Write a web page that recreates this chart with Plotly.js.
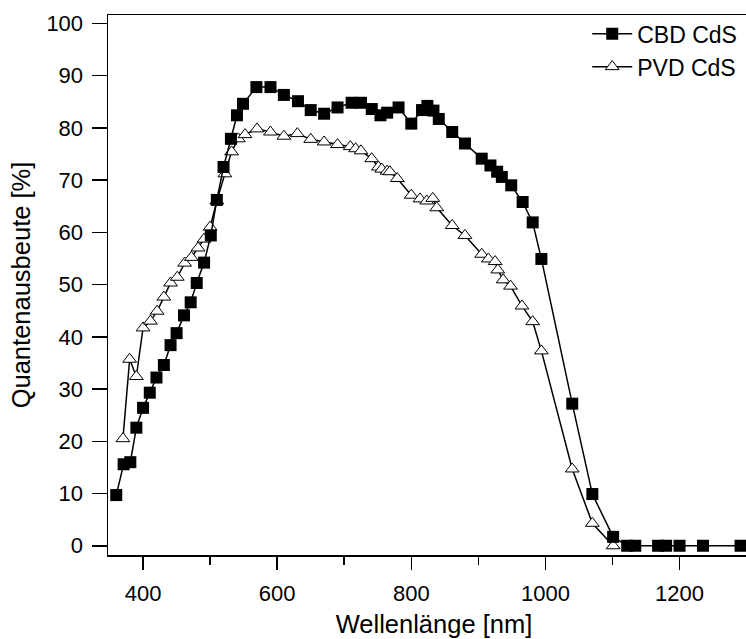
<!DOCTYPE html>
<html>
<head>
<meta charset="utf-8">
<script src="https://cdn.plot.ly/plotly-3.0.1.min.js"></script>
<style>
html,body{margin:0;padding:0;overflow:hidden;background:#fff;width:746px;height:639px;}
#chart{width:780px;height:639px;}
</style>
</head>
<body>
<div id="chart"></div>
<script>
const seriesNames = ["CBD CdS", "PVD CdS"];
const xTitle = "Wellenlänge [nm]";
const yTitle = "Quantenausbeute [%]";

const cbdWavelength = [360,371,381,390,400,410,420,431,441,450,461,471,480,491,501,510,520,531,540,549,569,590,610,631,650,670,690,711,725,741,754,764,781,800,816,824,833,841,861,880,905,918,928,935,949,966,981,994,1040,1070,1101,1122,1134,1168,1180,1200,1235,1291];
const cbdQE = [9.7,15.6,16.0,22.6,26.4,29.3,32.2,34.6,38.4,40.7,44.1,46.6,50.3,54.2,59.4,66.2,72.5,77.9,82.4,84.6,87.8,87.8,86.3,85.1,83.4,82.7,83.9,84.8,84.8,83.6,82.4,82.9,83.9,80.8,83.4,84.2,83.3,81.7,79.2,77.0,74.1,72.8,71.6,70.6,69.0,65.8,61.9,54.9,27.2,9.9,1.7,0,0,0,0,0,0,0];

const pvdWavelength = [370,380,390,400,411,421,431,441,451,462,472,482,491,500,510,522,532,542,552,570,590,610,630,650,670,690,709,717,725,741,751,756,764,768,779,800,813,823,832,838,861,880,905,915,925,929,937,948,965,981,994,1040,1070,1101];
const pvdQE = [20.5,35.7,32.4,41.7,43.0,44.9,47.6,50.3,51.4,54.1,55.2,57.0,58.7,61.0,66.0,71.2,75.4,77.9,78.7,79.8,79.2,78.4,78.9,77.8,77.3,76.8,76.4,76.0,75.6,74.1,72.5,72.1,71.7,71.6,70.3,67.1,66.4,66.0,66.5,64.7,61.3,59.4,55.8,54.9,54.4,52.8,50.9,49.7,45.9,42.9,37.3,14.7,4.3,0];

const xTickVals = [400,600,800,1000,1200];
const yTickVals = [0,10,20,30,40,50,60,70,80,90,100];

const font = "Liberation Sans, Arial, sans-serif";

const traces = [
  {
    x: pvdWavelength, y: pvdQE, name: seriesNames[1], type: "scatter", mode: "lines+markers",
    line: {color: "#000", width: 1.5},
    marker: {symbol: "triangle-up", size: 12, color: "#fff", line: {color: "#000", width: 1}},
    legendrank: 2
  },
  {
    x: cbdWavelength, y: cbdQE, name: seriesNames[0], type: "scatter", mode: "lines+markers",
    line: {color: "#000", width: 1.5},
    marker: {symbol: "square", size: 12, color: "#000", line: {color: "#000", width: 0}},
    legendrank: 1
  }
];

const layout = {
  width: 780, height: 639,
  margin: {l: 108, r: 20, t: 12, b: 84},
  paper_bgcolor: "#fff", plot_bgcolor: "#fff",
  font: {family: font, size: 22, color: "#000"},
  showlegend: true,
  legend: {x: 0.735, y: 1.005, xanchor: "left", yanchor: "top", bgcolor: "rgba(0,0,0,0)",
           font: {family: font, size: 23, color: "#000"}, tracegroupgap: 0, itemwidth: 40},
  xaxis: {
    range: [347.7, 1320], showgrid: false, zeroline: false,
    showline: true, linecolor: "#000", linewidth: 1.5, mirror: true,
    ticks: "outside", ticklen: 13, tickwidth: 1.5, tickcolor: "#000",
    tickvals: xTickVals, ticktext: xTickVals.map(String),
    ticklabelstandoff: 5,
    minor: {dtick: 100, tick0: 0, ticks: "outside", ticklen: 8, tickwidth: 1.5, tickcolor: "#000", showgrid: false},
    tickfont: {family: font, size: 22, color: "#000"},
    title: {text: xTitle, font: {family: font, size: 25.5, color: "#000"}, standoff: 10}
  },
  yaxis: {
    range: [-1.77, 101.6], showgrid: false, zeroline: false,
    showline: true, linecolor: "#000", linewidth: 1.5, mirror: true,
    ticks: "outside", ticklen: 15, tickwidth: 1.5, tickcolor: "#000",
    tickvals: yTickVals, ticktext: yTickVals.map(String),
    ticklabelstandoff: 4,
    tickfont: {family: font, size: 22, color: "#000"},
    title: {text: yTitle, font: {family: font, size: 25.5, color: "#000"}, standoff: 8}
  }
};

Plotly.newPlot("chart", traces, layout, {displayModeBar: false, staticPlot: true});
</script>
</body>
</html>
